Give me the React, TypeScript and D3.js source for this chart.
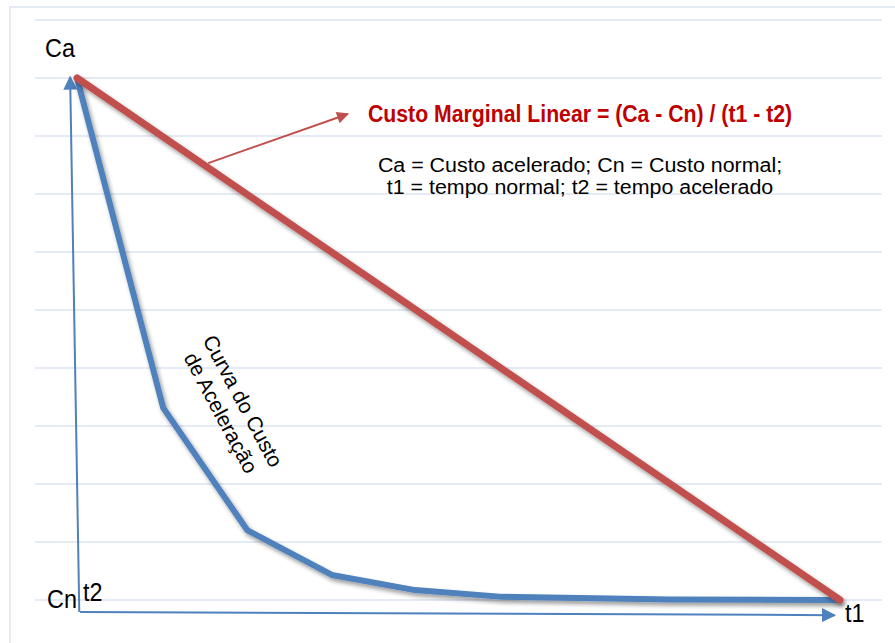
import * as d3 from 'd3';

// data space: x = time (t2 = 0 .. t1 = 10), y = cost (Cn = 0 .. Ca = 10)
const curveX = [0, 1.13, 2.23, 3.34, 4.43, 5.58, 7.77, 10];
const curveY = [10, 3.68, 1.34, 0.48, 0.19, 0.06, 0.01, 0];

const linearX = [0, 10];
const linearY = [10, 0];

// hand-drawn axes, slightly tilted like the original
const yAxisX = [0.03, -0.09];
const yAxisY = [-0.23, 10.02];
const xAxisX = [0.04, 9.93];
const xAxisY = [-0.23, -0.29];

// pointer from the red line to the formula
const noteX = [1.72, 3.55];
const noteY = [8.37, 9.31];

const gridRows = [0, 1, 2, 3, 4, 5, 6, 7, 8, 9, 10];

const formulaLabel = 'Custo Marginal Linear = (Ca - Cn) / (t1 - t2)';
const legendLines = ['Ca = Custo acelerado; Cn = Custo normal;', 't1 = tempo normal; t2 = tempo acelerado'];
const curveLabel = ['Curva do Custo', 'de Aceleração'];

const W = 895;
const H = 643;
const BLUE = '#4f81bd';
const RED = '#c0504d';
const GRID = '#dbe5f1';
const FONT = 'Liberation Sans, Arial, sans-serif';

type Pt = [number, number];
const zip = (xs: number[], ys: number[]): Pt[] => xs.map((x, i) => [x, ys[i]]);

export default function App() {
  const x = d3.scaleLinear().domain([0, 10]).range([77, 840]);
  const y = d3.scaleLinear().domain([0, 10]).range([600, 78]);
  const gridY = d3.scaleLinear().domain([0, 10]).range([20, 600]);

  const line = d3.line<Pt>().x(d => x(d[0])).y(d => y(d[1]));

  const yAxis = zip(yAxisX, yAxisY);
  const xAxis = zip(xAxisX, xAxisY);
  const note = zip(noteX, noteY);

  return (
    <svg width={W} height={H} style={{ position: 'absolute', left: 0, top: 0 }} fontFamily={FONT}>
      <defs>
        <filter id="shadow" x="-10%" y="-10%" width="130%" height="130%">
          <feDropShadow dx="2" dy="3" stdDeviation="2" floodColor="#000" floodOpacity="0.4" />
        </filter>
        <marker id="arrBlue" viewBox="0 0 10 10" refX="9" refY="5" markerWidth="7.5" markerHeight="7" markerUnits="strokeWidth" orient="auto">
          <path d="M0,0L10,5L0,10Z" fill={BLUE} />
        </marker>
        <marker id="arrRed" viewBox="0 0 10 10" refX="9" refY="5" markerWidth="7.5" markerHeight="6" markerUnits="strokeWidth" orient="auto">
          <path d="M0,0L10,5L0,10Z" fill={RED} />
        </marker>
      </defs>

      <rect width={W} height={H} fill="#fff" />
      {/* frame */}
      <path d={`M10,${H}V7H${W}`} fill="none" stroke={GRID} strokeWidth={1.5} />
      {/* gridlines */}
      {gridRows.map(r => (
        <line key={r} x1={35} x2={882} y1={gridY(r)} y2={gridY(r)} stroke={GRID} strokeWidth={1.6} />
      ))}

      {/* axes */}
      <path d={line(yAxis) || ''} fill="none" stroke={BLUE} strokeWidth={2} markerEnd="url(#arrBlue)" />
      <path d={line(xAxis) || ''} fill="none" stroke={BLUE} strokeWidth={2} markerEnd="url(#arrBlue)" />

      {/* acceleration curve */}
      <path d={line(zip(curveX, curveY)) || ''} fill="none" stroke={BLUE} strokeWidth={6} strokeLinejoin="round" filter="url(#shadow)" />
      {/* linear marginal cost */}
      <path d={line(zip(linearX, linearY)) || ''} fill="none" stroke={RED} strokeWidth={7} strokeLinecap="round" filter="url(#shadow)" />

      {/* pointer */}
      <path d={line(note) || ''} fill="none" stroke={RED} strokeWidth={2} markerEnd="url(#arrRed)" />

      {/* labels */}
      <g transform="translate(45,57) scale(0.9,1)">
        <text fontSize={26} fill="#000">Ca</text>
      </g>
      <g transform="translate(47,608) scale(0.9,1)">
        <text fontSize={26} fill="#000">Cn</text>
      </g>
      <g transform="translate(83,601) scale(0.9,1)">
        <text fontSize={26} fill="#000">t2</text>
      </g>
      <g transform="translate(845,622) scale(0.9,1)">
        <text fontSize={26} fill="#000">t1</text>
      </g>

      <g transform="translate(368,122) scale(0.885,1)">
        <text fontSize={24} fontWeight="bold" fill="#c00000">{formulaLabel}</text>
      </g>

      {legendLines.map((t, i) => (
        <g key={t} transform={`translate(580,${172 + i * 22}) scale(1.07,1)`}>
          <text fontSize={20} textAnchor="middle" fill="#000">{t}</text>
        </g>
      ))}

      <g transform="translate(236.5,404.5) rotate(62)">
        {curveLabel.map((t, i) => (
          <text key={t} y={i * 25} fontSize={21} textAnchor="middle" fill="#000">{t}</text>
        ))}
      </g>
    </svg>
  );
}
